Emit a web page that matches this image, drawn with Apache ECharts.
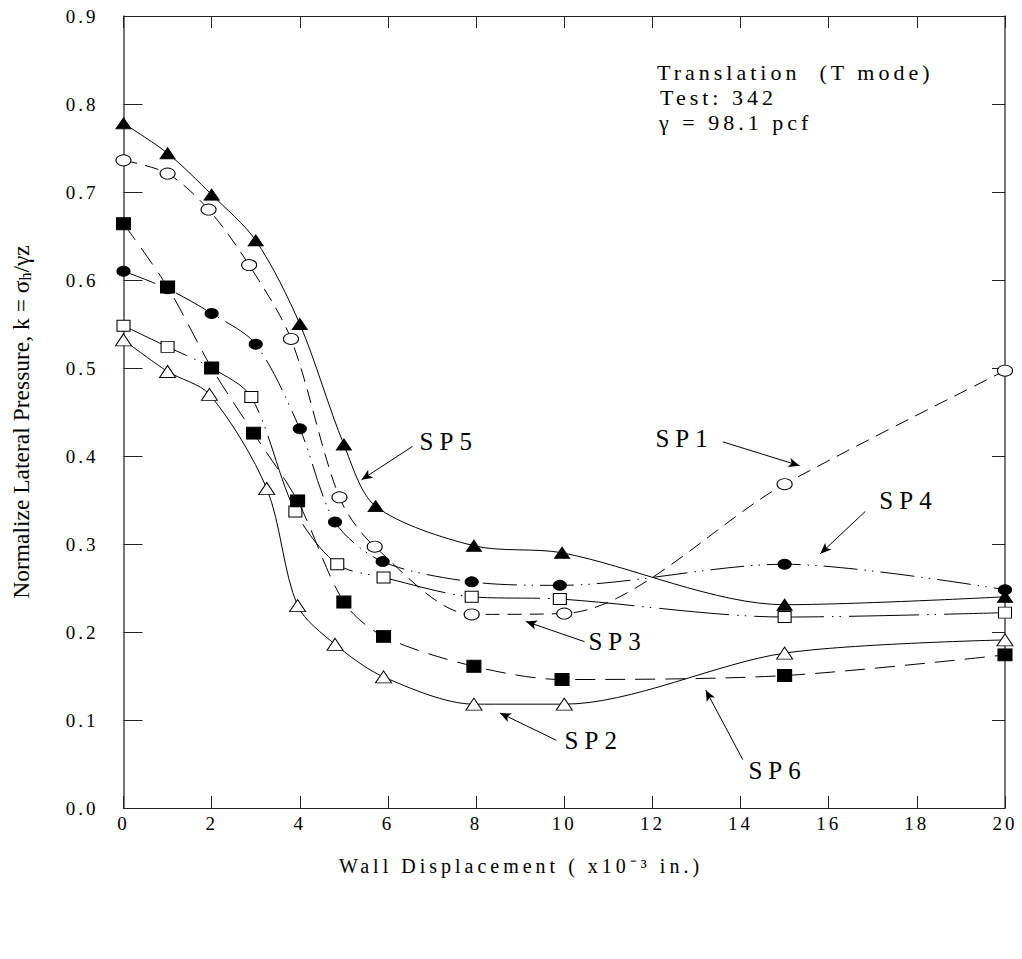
<!DOCTYPE html>
<html>
<head>
<meta charset="utf-8">
<script src="https://cdn.jsdelivr.net/npm/echarts@6/dist/echarts.min.js"></script>
<style>
  html, body { margin: 0; padding: 0; background: #fff; }
  #chart { width: 1022px; height: 959px; }
  #chart text[style*="19px"] { letter-spacing: 3px; }
  #chart text[style*="22px"] { letter-spacing: 4px; }
  #chart text[style*="25px"] { letter-spacing: 6px; }
  #chart text[style*="20px"] { letter-spacing: 4px; }
</style>
</head>
<body>
<div id="chart"></div>
<script>
// ---- data (wall displacement x1e-3 in., normalized lateral pressure k) ----
const sp1X = [0, 1, 1.93, 2.85, 3.8, 4.9, 5.7, 7.9, 10, 15, 20];
const sp1Y = [0.736, 0.721, 0.68, 0.617, 0.533, 0.353, 0.297, 0.22, 0.221, 0.368, 0.497];

const sp2X = [0, 1, 1.95, 3.25, 3.95, 4.8, 5.9, 7.95, 10, 15, 20];
const sp2Y = [0.532, 0.496, 0.47, 0.363, 0.23, 0.186, 0.149, 0.118, 0.118, 0.176, 0.191];

const sp3X = [0, 1, 2, 2.9, 3.9, 4.85, 5.9, 7.9, 9.9, 15, 20];
const sp3Y = [0.548, 0.524, 0.5, 0.467, 0.337, 0.277, 0.262, 0.24, 0.2375, 0.217, 0.222];

const sp4X = [0, 1, 2, 3, 4, 4.8, 5.88, 7.9, 9.9, 15, 20];
const sp4Y = [0.61, 0.59, 0.562, 0.527, 0.431, 0.325, 0.28, 0.257, 0.253, 0.277, 0.248];

const sp5X = [0, 1, 2, 3, 4, 5, 5.72, 7.95, 9.95, 15, 20];
const sp5Y = [0.778, 0.744, 0.697, 0.645, 0.55, 0.413, 0.343, 0.298, 0.29, 0.231, 0.24];

const sp6X = [0, 1, 2, 2.95, 3.95, 5, 5.9, 7.95, 9.95, 15, 20];
const sp6Y = [0.664, 0.592, 0.5, 0.426, 0.349, 0.234, 0.195, 0.161, 0.146, 0.1505, 0.174];

const xTicks = [0, 2, 4, 6, 8, 10, 12, 14, 16, 18, 20];
const yTicks = [0.0, 0.1, 0.2, 0.3, 0.4, 0.5, 0.6, 0.7, 0.8, 0.9];

// curve labels: [name, labelX, labelY, arrowFromX, arrowFromY, arrowToX, arrowToY]
const curveLabels = [
  ['SP5', 7.38, 0.416, 6.56, 0.411, 5.40, 0.373],
  ['SP1', 12.73, 0.420, 13.6, 0.416, 15.34, 0.389],
  ['SP4', 17.81, 0.350, 16.83, 0.337, 15.81, 0.289],
  ['SP3', 11.21, 0.189, 10.46, 0.189, 9.13, 0.212],
  ['SP2', 10.67, 0.077, 9.82, 0.077, 8.54, 0.108],
  ['SP6', 14.84, 0.043, 14.05, 0.055, 13.21, 0.134]
];

const FONT = '"Liberation Serif", "Times New Roman", serif';
const pair = (xs, ys) => xs.map((x, i) => [x, ys[i]]);

function lineSeries(name, xs, ys, lineType, symbol, size, filled, z) {
  return {
    name, type: 'line', data: pair(xs, ys),
    smooth: 0.3,
    symbol, symbolSize: size, showSymbol: true,
    lineStyle: { color: '#000', width: 1, type: lineType },
    itemStyle: { color: filled ? '#000' : '#fff', borderColor: '#000', borderWidth: 1 },
    z, animation: false, silent: true
  };
}

const chart = echarts.init(document.getElementById('chart'), null, { renderer: 'svg' });

const series = [
  lineSeries('SP4', sp4X, sp4Y, [34, 7, 1.5, 6, 1.5, 7], 'circle', [13, 10], true, 2),
  lineSeries('SP3', sp3X, sp3Y, [70, 8, 1.5, 6, 1.5, 8], 'rect', [13, 11], false, 3),
  lineSeries('SP6', sp6X, sp6Y, [20, 10], 'rect', [14, 12], true, 4),
  lineSeries('SP2', sp2X, sp2Y, 'solid', 'triangle', [16, 12], false, 5),
  lineSeries('SP1', sp1X, sp1Y, [14, 8], 'circle', [15, 11], false, 6),
  lineSeries('SP5', sp5X, sp5Y, 'solid', 'triangle', [15, 11], true, 7),
  {
    name: 'labels', type: 'line', data: [], animation: false, silent: true,
    markLine: {
      silent: true, animation: false,
      symbol: ['none', 'arrow'], symbolSize: [7, 11],
      lineStyle: { color: '#000', width: 1, type: 'solid' },
      itemStyle: { color: '#000' },
      label: { show: false },
      data: curveLabels.map(c => [{ coord: [c[3], c[4]] }, { coord: [c[5], c[6]] }])
    },
    markPoint: {
      silent: true, animation: false,
      symbol: 'circle', symbolSize: 1,
      itemStyle: { color: 'rgba(0,0,0,0)' },
      label: { show: true, position: 'inside', formatter: '{b}', color: '#000',
               fontFamily: FONT, fontSize: 25 },
      data: curveLabels.map(c => ({ name: c[0], coord: [c[1], c[2]] }))
    }
  }
];

const option = {
  backgroundColor: '#fff',
  animation: false,
  grid: { left: 123.5, right: 17, top: 16, bottom: 151, containLabel: false },
  xAxis: [
    {
      type: 'value', min: 0, max: 20, interval: 2, position: 'bottom',
      axisLine: { show: true, onZero: false, lineStyle: { color: '#222', width: 1.2 } },
      axisTick: { show: true, inside: true, length: 12, lineStyle: { color: '#222' } },
      splitLine: { show: false },
      axisLabel: { margin: 6, color: '#000', fontFamily: FONT, fontSize: 19,
                   formatter: v => String(v) }
    },
    {
      type: 'value', min: 0, max: 20, interval: 2, position: 'top',
      axisLine: { show: true, onZero: false, lineStyle: { color: '#222', width: 1.2 } },
      axisTick: { show: true, inside: true, length: 12, lineStyle: { color: '#222' } },
      splitLine: { show: false }, axisLabel: { show: false }
    }
  ],
  yAxis: [
    {
      type: 'value', min: 0, max: 0.9, interval: 0.1, position: 'left',
      axisLine: { show: true, onZero: false, lineStyle: { color: '#555', width: 1.6 } },
      axisTick: { show: true, inside: true, length: 19, lineStyle: { color: '#222' } },
      splitLine: { show: false },
      axisLabel: { margin: 25, color: '#000', fontFamily: FONT, fontSize: 19,
                   formatter: v => v.toFixed(1) }
    },
    {
      type: 'value', min: 0, max: 0.9, interval: 0.1, position: 'right',
      axisLine: { show: true, onZero: false, lineStyle: { color: '#555', width: 1.6 } },
      axisTick: { show: true, inside: true, length: 13, lineStyle: { color: '#222' } },
      splitLine: { show: false }, axisLabel: { show: false }
    }
  ],
  graphic: [
    {
      type: 'text', x: 521, y: 866,
      style: {
        text: 'Wall Displacement ( x10⁻³ in.)',
        fontFamily: FONT, fontSize: 20, fill: '#000',
        align: 'center', verticalAlign: 'middle'
      }
    },
    {
      type: 'text', x: 21, y: 422, rotation: Math.PI / 2,
      style: {
        text: 'Normalize Lateral Pressure, k = σ{sub|h}/γz',
        rich: { sub: { fontFamily: FONT, fontSize: 16, fill: '#000', verticalAlign: 'bottom' } },
        fontFamily: FONT, fontSize: 23.5, fill: '#000',
        align: 'center', verticalAlign: 'middle'
      }
    },
    {
      type: 'text', x: 657, y: 72,
      style: { text: 'Translation  (T mode)', fontFamily: FONT, fontSize: 22, fill: '#000',
               align: 'left', verticalAlign: 'middle' }
    },
    {
      type: 'text', x: 660, y: 97,
      style: { text: 'Test: 342', fontFamily: FONT, fontSize: 22, fill: '#000',
               align: 'left', verticalAlign: 'middle' }
    },
    {
      type: 'text', x: 659, y: 122,
      style: { text: 'γ = 98.1 pcf', fontFamily: FONT, fontSize: 22, fill: '#000',
               align: 'left', verticalAlign: 'middle' }
    }
  ],
  series
};

chart.setOption(option);
</script>
</body>
</html>
